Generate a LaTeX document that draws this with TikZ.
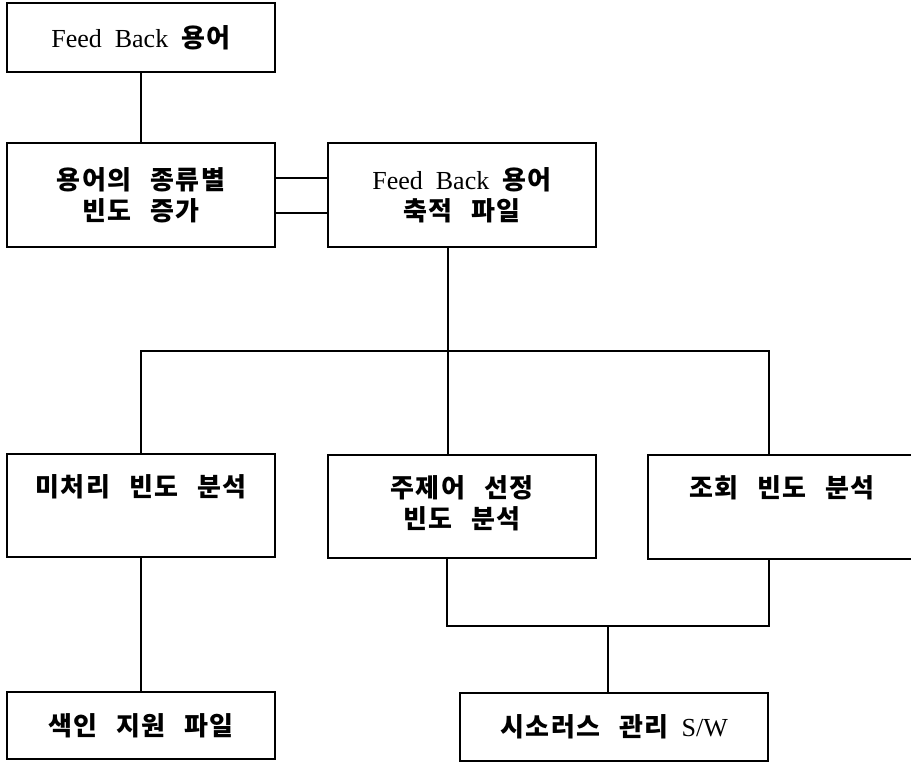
\documentclass[tikz,border=0pt]{standalone}
\usepackage{fontspec}
\setmainfont{Liberation Serif}[WordSpace=2]
\newfontfamily\kr{Noto Sans CJK KR}[LetterSpace=6,WordSpace=2.5]
\newcommand\kor[1]{{\kr\bfseries #1}}

\begin{document}
\begin{tikzpicture}[x=1pt,y=-1pt,line width=1.5pt,
        box/.style={draw,minimum width=268pt,align=center,
            font=\fontsize{26}{31}\selectfont},
        topbox/.style={box,inner sep=0pt}]
        \useasboundingbox (0,0) rectangle (911,763);

        \node[box,minimum height=69pt]  (fb)    at (141,37.5) {Feed Back \kor{용어}};
        \node[box,minimum height=104pt] (freq)  at (141,195)  {\kor{용어의 종류별}\\\kor{빈도 증가}};
        \node[box,minimum height=104pt] (accum) at (462,195)  {Feed Back \kor{용어}\\\kor{축적 파일}};

        \node[topbox] (untreated) at (141,505.5)
            {\parbox[c][103pt][t]{268pt}{\centering\rule{0pt}{42pt}\kor{미처리 빈도 분석}}};
        \node[topbox] (subject) at (462,506.5)
            {\parbox[c][103pt][t]{268pt}{\centering\rule{0pt}{42pt}\kor{주제어 선정}\\\kor{빈도 분석}}};
        \node[topbox] (lookup) at (782,507)
            {\parbox[c][104pt][t]{268pt}{\centering\rule{0pt}{42pt}\kor{조회 빈도 분석}}};

        \node[box,minimum height=67pt] (index) at (141,725.5) {\kor{색인 지원 파일}};
        \node[box,minimum width=308pt,minimum height=68pt] (thes) at (614,727) {\kor{시소러스 관리} S/W};

        \coordinate (busR) at (769,351);
        \coordinate (join) at (608,626);

        \draw (fb) -- (freq);
        \draw ([yshift=17pt]freq.east)  -- ([yshift=17pt]accum.west);
        \draw ([yshift=-18pt]freq.east) -- ([yshift=-18pt]accum.west);

        \draw ([xshift=-14pt]accum.south) -- ([xshift=-14pt]subject.north);
        \draw (untreated.north) |- (busR) -- (lookup.north -| busR);

        \draw (untreated) -- (index);
        \draw ([xshift=-15pt]subject.south) |- (busR |- join) -- (lookup.south -| busR);
        \draw (join) -- (thes.north -| join);
    \end{tikzpicture}
\end{document}
